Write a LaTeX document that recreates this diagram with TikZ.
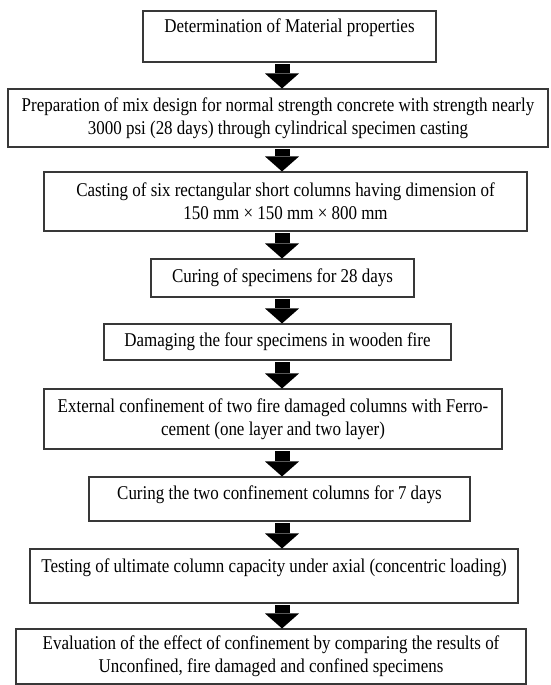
\documentclass[tikz,border=0pt]{standalone}
\usepackage{fontspec}
\setmainfont[FakeStretch=0.87]{Liberation Serif}
\usetikzlibrary{arrows.meta}
\definecolor{boxline}{rgb}{0.22,0.22,0.22}

\begin{document}
\begin{tikzpicture}[
        x=1pt, y=-1pt,
        box/.style={draw=boxline, line width=1.1pt, align=center, inner sep=0pt, font=\fontsize{19.5}{23}\selectfont},
        uptext/.style={text height=13.5pt, text depth=#1},
        blk/.style={line width=15pt, -{Triangle[width=34pt, length=15pt, line width=0pt]}, shorten <=1.5pt}
    ]
        \useasboundingbox (0,0) rectangle (550,685);
        \coordinate (axis) at (282,0);

        % Process steps
        \node[box, uptext=21.8pt, minimum width=293pt, minimum height=51pt] (material) at (289.5,36.5) {Determination of Material properties};
        \node[box, minimum width=540pt, minimum height=58pt] (mixdesign) at (278,118) {Preparation of mix design for normal strength concrete with strength nearly\\3000 psi (28 days) through cylindrical specimen casting};
        \node[box, minimum width=483pt, minimum height=59pt] (casting) at (285.5,201.5) {Casting of six rectangular short columns having dimension of\\150 mm × 150 mm × 800 mm};
        \node[box, minimum width=263pt, minimum height=38pt] (curing) at (282.5,278) {Curing of specimens for 28 days};
        \node[box, minimum width=347pt, minimum height=36pt] (damage) at (277.5,342) {Damaging the four specimens in wooden fire};
        \node[box, minimum width=458pt, minimum height=60pt] (confine) at (273,419) {External confinement of two fire damaged columns with Ferro-\\cement (one layer and two layer)};
        \node[box, uptext=12.8pt, minimum width=381pt, minimum height=44pt] (curingtwo) at (279.5,499) {Curing the two confinement columns for 7 days};
        \node[box, uptext=20.8pt, minimum width=488pt, minimum height=54pt] (testing) at (274,576) {Testing of ultimate column capacity under axial (concentric loading)};
        \node[box, minimum width=510pt, minimum height=55pt] (evaluation) at (271,656.5) {Evaluation of the effect of confinement by comparing the results of\\Unconfined, fire damaged and confined specimens};

        % Block arrows between steps
        \draw[blk] (material.south -| axis) -- (mixdesign.north -| axis);
        \draw[blk] (mixdesign.south -| axis) -- (casting.north -| axis);
        \draw[blk] (casting.south -| axis) -- (curing.north -| axis);
        \draw[blk] (curing.south -| axis) -- (damage.north -| axis);
        \draw[blk] (damage.south -| axis) -- (confine.north -| axis);
        \draw[blk] (confine.south -| axis) -- (curingtwo.north -| axis);
        \draw[blk] (curingtwo.south -| axis) -- (testing.north -| axis);
        \draw[blk] (testing.south -| axis) -- (evaluation.north -| axis);
    \end{tikzpicture}
\end{document}
